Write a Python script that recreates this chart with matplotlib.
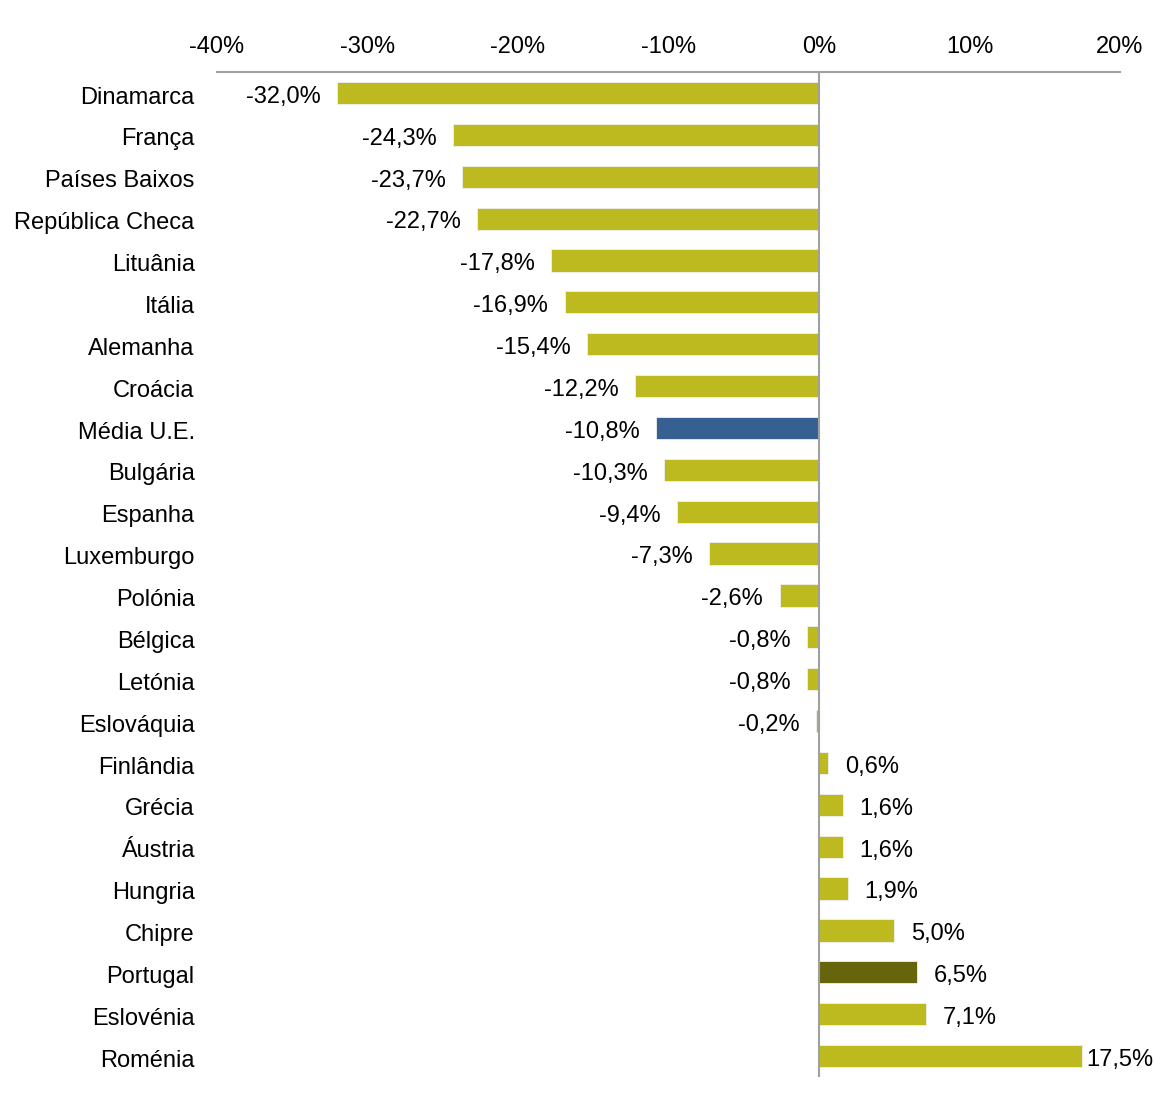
import matplotlib
matplotlib.use("Agg")
import matplotlib.pyplot as plt
from matplotlib.ticker import FuncFormatter
from matplotlib.transforms import ScaledTranslation

plt.rcParams['font.family'] = ['Liberation Sans', 'DejaVu Sans']

countries = ["Dinamarca", "França", "Países Baixos", "República Checa", "Lituânia",
             "Itália", "Alemanha", "Croácia", "Média U.E.", "Bulgária", "Espanha",
             "Luxemburgo", "Polónia", "Bélgica", "Letónia", "Eslováquia", "Finlândia",
             "Grécia", "Áustria", "Hungria", "Chipre", "Portugal", "Eslovénia", "Roménia"]
values = [-32.0, -24.3, -23.7, -22.7, -17.8, -16.9, -15.4, -12.2, -10.8, -10.3, -9.4,
          -7.3, -2.6, -0.8, -0.8, -0.2, 0.6, 1.6, 1.6, 1.9, 5.0, 6.5, 7.1, 17.5]
ticks = [-40, -30, -20, -10, 0, 10, 20]

olive = "#BDBA20"
highlight = {"Média U.E.": "#366092", "Portugal": "#67650B"}
colors = [highlight.get(c, olive) for c in countries]

fig = plt.figure(figsize=(11.54, 11.17), dpi=100)
ax = fig.add_axes([0.188, 0.0358, 0.9705 - 0.188, 0.9355 - 0.0358])

y = list(range(len(countries)))
ax.barh(y, values, height=0.53, color=colors, edgecolor="#f0f0f0", linewidth=0.6, zorder=2)

ax.set_ylim(len(countries) - 0.5, -0.5)
ax.set_xlim(ticks[0], ticks[-1])
ax.set_yticks(y)
ax.set_yticklabels(countries)
ax.set_xticks(ticks)
ax.xaxis.set_major_formatter(FuncFormatter(lambda v, p: f"{v:.0f}%"))
ax.xaxis.tick_top()
ax.tick_params(axis="x", length=0, pad=10, labelsize=17)
ax.tick_params(axis="y", length=0, pad=16, labelsize=17)

# nudge the country names down a little
shift = ScaledTranslation(0, -1.5 / 72, fig.dpi_scale_trans)
for lbl in ax.get_yticklabels():
    lbl.set_transform(lbl.get_transform() + shift)

for s in ["left", "right", "bottom"]:
    ax.spines[s].set_visible(False)
ax.spines["top"].set_color("#A0A0A0")
ax.spines["top"].set_linewidth(1.5)
ax.axvline(0, color="#A0A0A0", linewidth=1.5, zorder=3)

vmax = max(values)
for yi, v in zip(y, values):
    txt = f"{v:.1f}".replace(".", ",") + "%"
    if v < 0:
        ax.annotate(txt, (v, yi), xytext=(-12, -1), textcoords="offset points",
                    ha="right", va="center_baseline", fontsize=17)
    else:
        off = 3 if v == vmax else 12
        ax.annotate(txt, (v, yi), xytext=(off, -1), textcoords="offset points",
                    ha="left", va="center_baseline", fontsize=17)

fig.savefig("out.png", dpi=100)
